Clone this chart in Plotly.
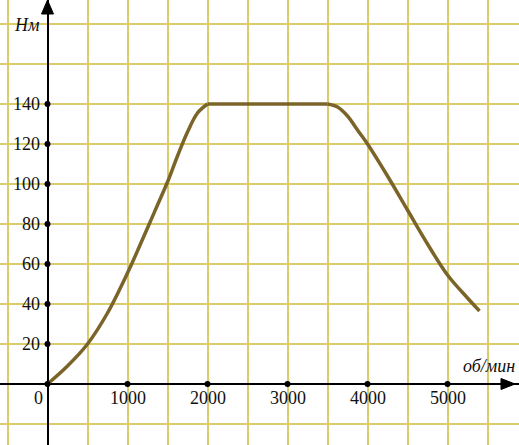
import plotly.graph_objects as go

# Data
rpm_rise = [0, 250, 500, 750, 1000, 1250, 1375, 1500, 1625, 1750, 1875, 2000]
torque_rise = [0, 9, 20, 35.5, 55.5, 78, 89.5, 101, 114, 126, 135.5, 140]
rpm_flat = [2000, 3500]
torque_flat = [140, 140]
rpm_fall = [3500, 3625, 3750, 3875, 4000, 4250, 4500, 4750, 5000, 5250, 5400]
torque_fall = [140, 138.5, 134, 127, 120, 104, 87, 70, 54.5, 43, 36.5]

x_ticks = [1000, 2000, 3000, 4000, 5000]
y_ticks = [20, 40, 60, 80, 100, 120, 140]
x_label = "об/мин"
y_label = "Нм"

X_RANGE = [-593.75, 5893.75]
Y_RANGE = [-30.5, 192]

FONT = "Liberation Serif"
GRID = "#d8cc6c"
CURVE = "#7b6429"

fig = go.Figure()

for xs, ys, shp in [(rpm_rise, torque_rise, "spline"), (rpm_flat, torque_flat, "linear"),
                    (rpm_fall, torque_fall, "spline")]:
    fig.add_trace(go.Scatter(
        x=xs, y=ys, mode="lines",
        line=dict(color=CURVE, width=3.5, shape=shp),
        hoverinfo="skip", showlegend=False,
    ))

# tick dots on the axes
fig.add_trace(go.Scatter(
    x=[0] + x_ticks + [0] * len(y_ticks),
    y=[0] + [0] * len(x_ticks) + y_ticks,
    mode="markers", marker=dict(color="black", size=6),
    hoverinfo="skip", showlegend=False,
))

annotations = []
for v in y_ticks:
    annotations.append(dict(x=0, y=v, xref="x", yref="y", text=str(v), showarrow=False,
                            xanchor="right", yanchor="middle", xshift=-6,
                            font=dict(family=FONT, size=18, color="#111111")))
for v in x_ticks:
    annotations.append(dict(x=v, y=0, xref="x", yref="y", text=str(v), showarrow=False,
                            xanchor="center", yanchor="middle", yshift=-13.5,
                            font=dict(family=FONT, size=18, color="#111111")))
annotations.append(dict(x=0, y=0, xref="x", yref="y", text="0", showarrow=False,
                        xanchor="center", yanchor="middle", xshift=-9.5, yshift=-13.5,
                        font=dict(family=FONT, size=18, color="#111111")))
annotations.append(dict(x=0, y=Y_RANGE[1], xref="x", yref="y", text="<i>" + y_label + "</i>",
                        showarrow=False, xanchor="center", yanchor="middle",
                        xshift=-20.5, yshift=-25,
                        font=dict(family=FONT, size=18, color="#111111")))
annotations.append(dict(x=X_RANGE[1], y=0, xref="x", yref="y", text="<i>" + x_label + "</i>",
                        showarrow=False, xanchor="right", yanchor="middle",
                        xshift=-2, yshift=18,
                        font=dict(family=FONT, size=18, color="#111111")))

shapes = [
    # y-axis arrowhead
    dict(type="path", xref="x", yref="y", xsizemode="pixel", ysizemode="pixel",
         xanchor=0, yanchor=Y_RANGE[1],
         path="M -6,-14 L 6,-14 L 0,0 Z", fillcolor="black", line=dict(color="black", width=1)),
    # x-axis arrowhead
    dict(type="path", xref="x", yref="y", xsizemode="pixel", ysizemode="pixel",
         xanchor=X_RANGE[1], yanchor=0,
         path="M -4,0 L -18,5.5 L -18,-5.5 Z", fillcolor="black", line=dict(color="black", width=1)),
]

fig.update_layout(
    width=519, height=445,
    margin=dict(l=0, r=0, t=0, b=0),
    paper_bgcolor="white", plot_bgcolor="white",
    annotations=annotations, shapes=shapes,
    xaxis=dict(range=X_RANGE, tick0=0, dtick=500, showgrid=True, gridcolor=GRID, gridwidth=1.5,
               zeroline=True, zerolinecolor="black", zerolinewidth=1.5,
               showticklabels=False, ticks="", fixedrange=True),
    yaxis=dict(range=Y_RANGE, tick0=0, dtick=20, showgrid=True, gridcolor=GRID, gridwidth=1.5,
               zeroline=True, zerolinecolor="black", zerolinewidth=1.5,
               showticklabels=False, ticks="", fixedrange=True),
)

fig.write_html("out.html", config={"displayModeBar": False},
               post_script="document.body.style.margin='0';document.body.style.overflow='hidden';")
